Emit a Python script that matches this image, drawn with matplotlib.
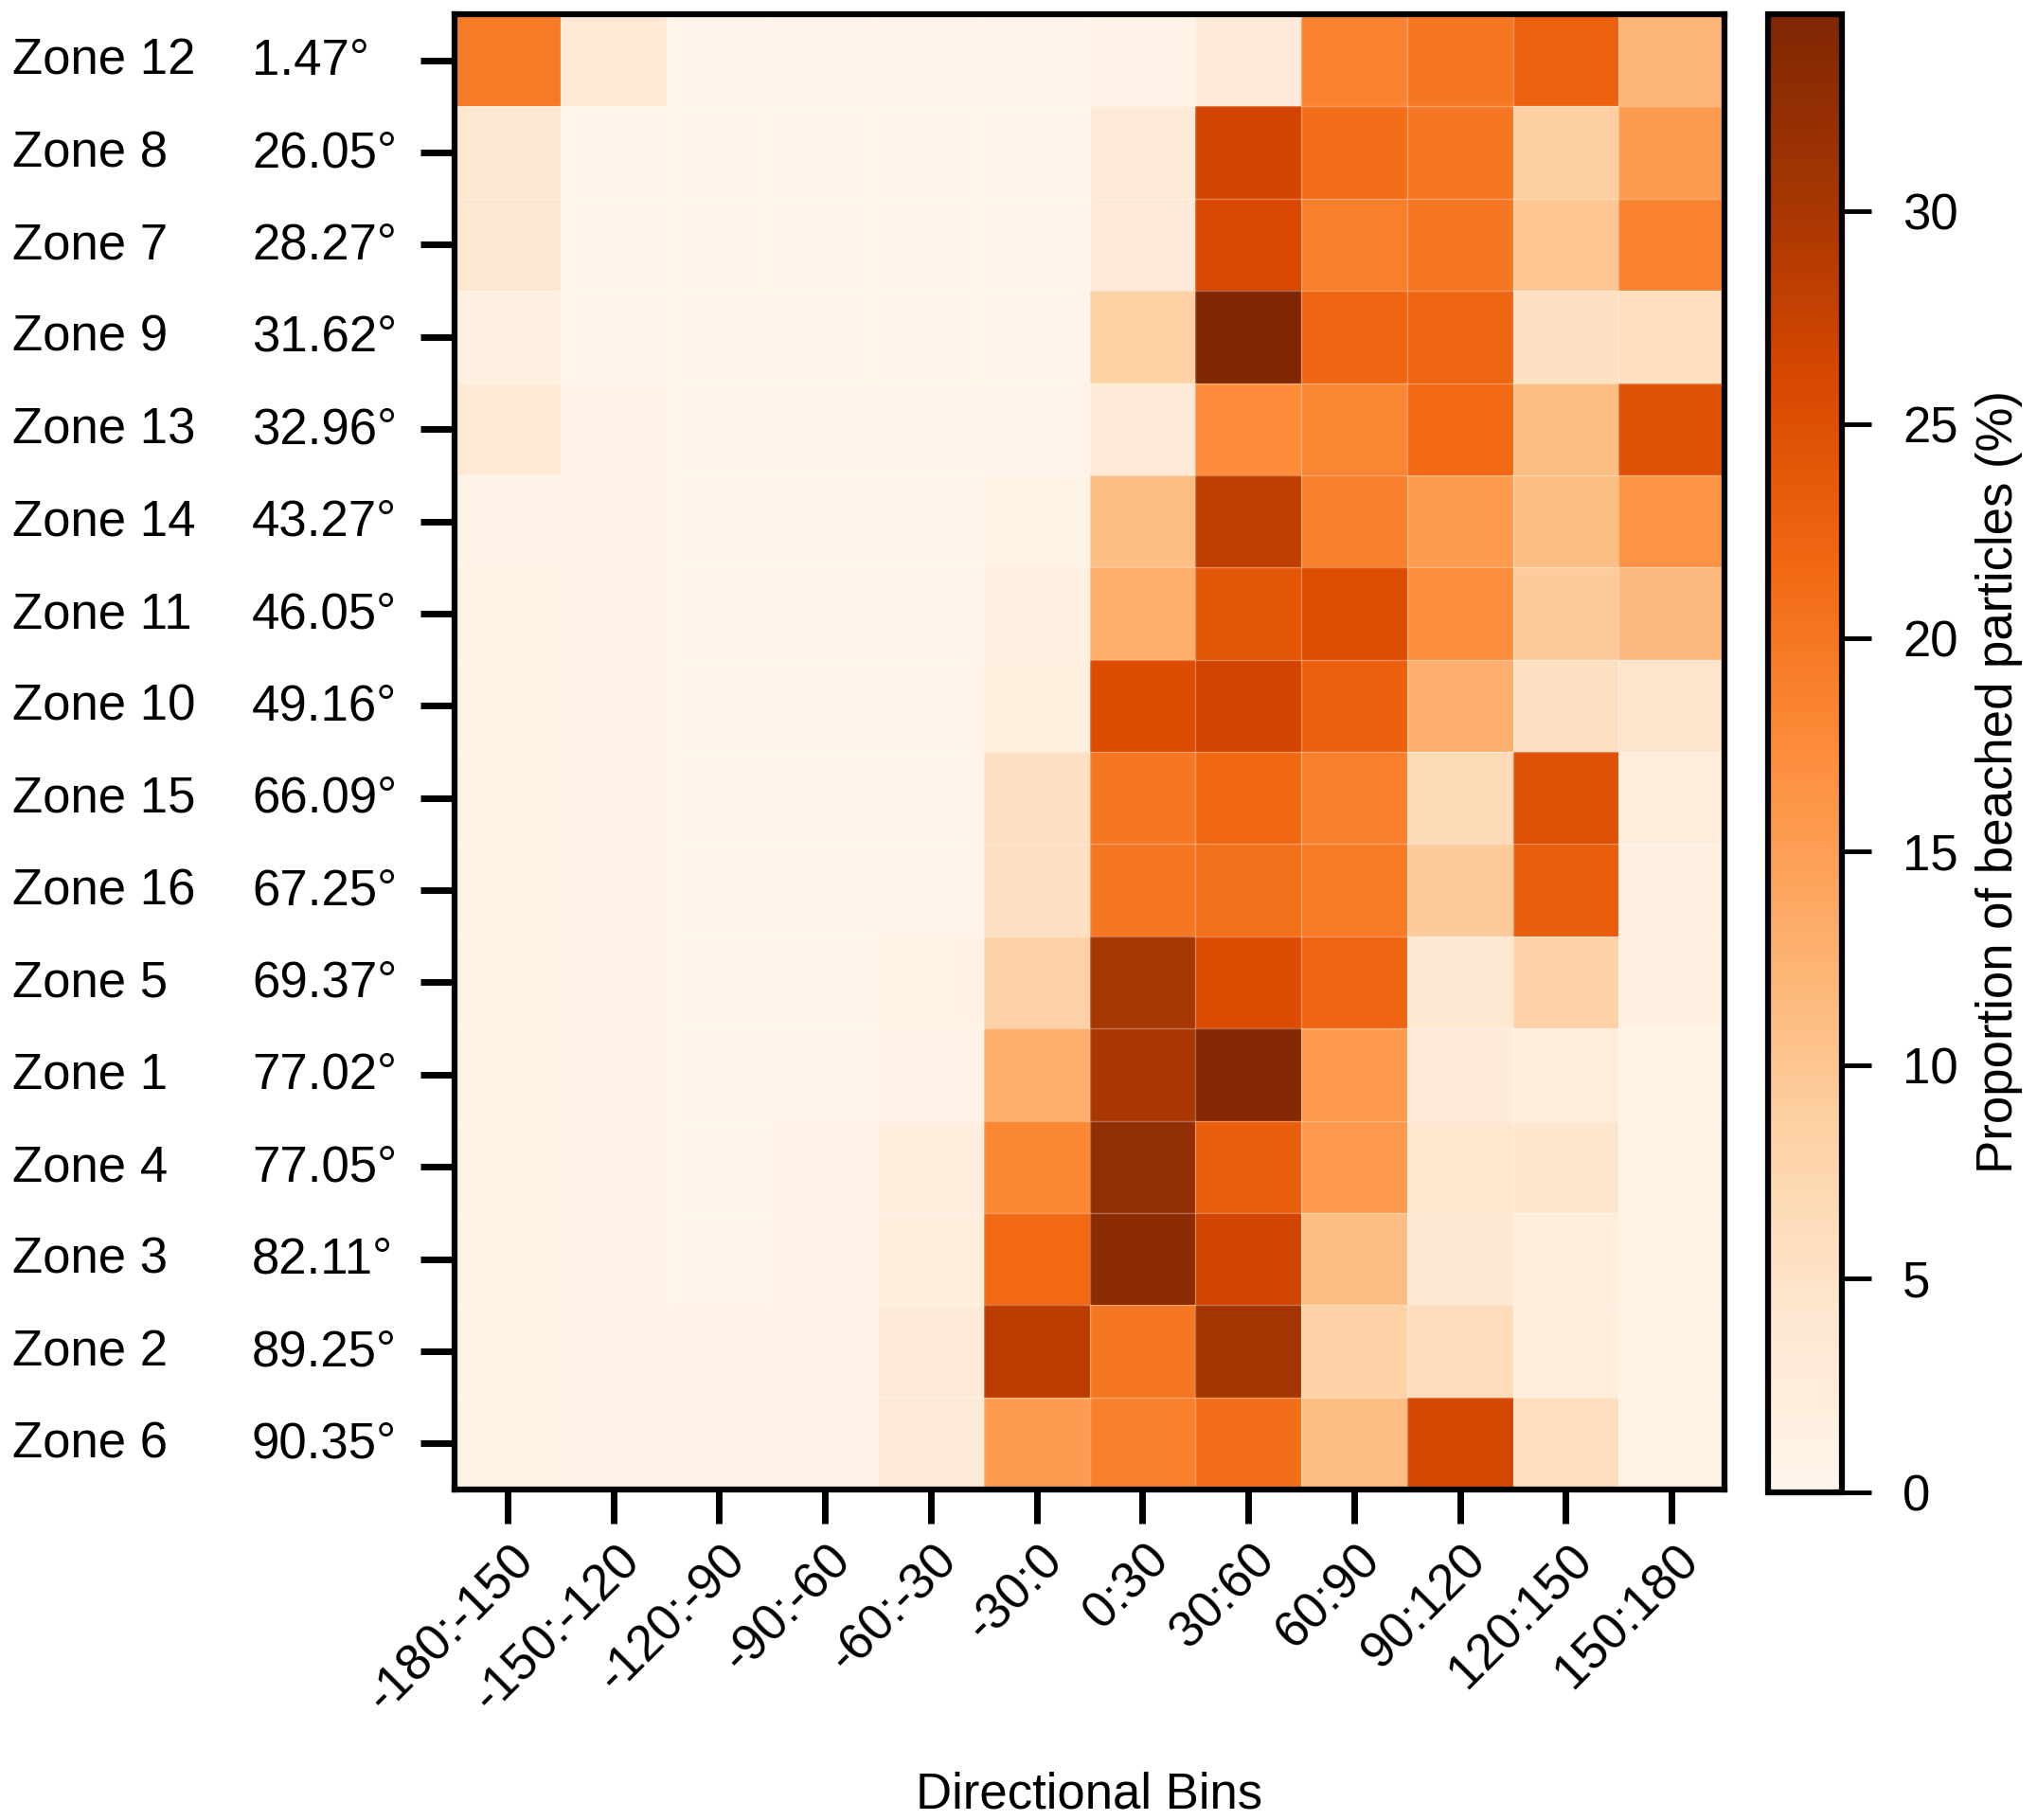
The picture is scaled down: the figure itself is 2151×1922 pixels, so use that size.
import numpy as np
import matplotlib
matplotlib.use("Agg")
import matplotlib.pyplot as plt
from matplotlib import transforms as mtrans

plt.rcParams['font.family'] = ['Liberation Sans', 'DejaVu Sans']

zones = ["Zone 12", "Zone 8", "Zone 7", "Zone 9", "Zone 13", "Zone 14", "Zone 11",
         "Zone 10", "Zone 15", "Zone 16", "Zone 5", "Zone 1", "Zone 4", "Zone 3",
         "Zone 2", "Zone 6"]
angles = ["1.47°", "26.05°", "28.27°", "31.62°", "32.96°", "43.27°", "46.05°",
          "49.16°", "66.09°", "67.25°", "69.37°", "77.02°", "77.05°", "82.11°",
          "89.25°", "90.35°"]
bins = ["-180:-150", "-150:-120", "-120:-90", "-90:-60", "-60:-30", "-30:0",
        "0:30", "30:60", "60:90", "90:120", "120:150", "150:180"]

values = np.array([
    [19.5, 3.5, 0.5, 0.3, 0.3, 0.3, 0.6, 3.0, 18.5, 20.0, 22.5, 12.0],
    [4.0, 0.4, 0.3, 0.2, 0.2, 0.2, 3.0, 26.5, 21.0, 20.0, 8.8, 15.5],
    [4.0, 0.4, 0.3, 0.2, 0.2, 0.2, 3.2, 26.0, 19.0, 20.0, 10.0, 18.5],
    [1.5, 0.5, 0.3, 0.3, 0.2, 0.2, 8.5, 34.6, 22.0, 22.0, 5.5, 5.8],
    [3.5, 0.6, 0.4, 0.3, 0.3, 0.3, 3.0, 17.5, 18.3, 21.5, 11.0, 25.0],
    [0.9, 0.6, 0.5, 0.4, 0.4, 0.8, 11.0, 28.0, 19.0, 15.5, 11.0, 16.5],
    [0.8, 0.6, 0.5, 0.4, 0.4, 1.5, 13.0, 24.0, 25.2, 17.2, 9.3, 11.5],
    [0.8, 0.6, 0.5, 0.4, 0.5, 1.8, 25.3, 26.5, 22.8, 12.8, 5.5, 4.8],
    [0.7, 0.6, 0.5, 0.4, 0.5, 5.5, 20.0, 21.7, 19.0, 6.5, 25.0, 2.5],
    [0.7, 0.6, 0.5, 0.4, 0.5, 5.5, 20.0, 20.8, 19.5, 9.3, 23.0, 1.5],
    [0.7, 0.6, 0.5, 0.5, 1.0, 8.3, 30.2, 25.3, 22.3, 3.8, 8.3, 1.5],
    [0.7, 0.6, 0.5, 0.5, 0.9, 13.0, 30.0, 34.0, 15.6, 3.0, 2.5, 0.8],
    [0.7, 0.6, 0.5, 0.6, 2.0, 18.2, 32.5, 23.0, 15.6, 4.2, 4.4, 1.0],
    [0.7, 0.6, 0.5, 0.6, 2.0, 21.5, 33.0, 26.5, 11.0, 3.8, 2.5, 1.0],
    [0.8, 0.6, 0.6, 0.6, 3.0, 28.5, 20.0, 30.5, 8.3, 6.3, 2.5, 1.0],
    [0.8, 0.6, 0.6, 0.6, 3.0, 15.3, 19.0, 21.0, 11.0, 26.3, 6.0, 1.0],
])
cbar_ticks = [0, 5, 10, 15, 20, 25, 30]
vmin, vmax = 0, 34.6

W, H = 2151, 1922
fig = plt.figure(figsize=(W / 100, H / 100), dpi=100)
ax = fig.add_axes([480 / W, 1 - 1573 / H, (1821 - 480) / W, (1573 - 15) / H])
cax = fig.add_axes([1867 / W, 1 - 1576 / H, (1945 - 1867) / W, (1576 - 15) / H])

nrow, ncol = values.shape
mesh = ax.pcolormesh(np.arange(ncol + 1), np.arange(nrow + 1), values,
                     cmap="Oranges", vmin=vmin, vmax=vmax)
ax.set_xlim(0, ncol)
ax.set_ylim(nrow, 0)
for k in range(1, ncol):
    ax.axvline(k, color="white", lw=1.0, alpha=0.3)
for k in range(1, nrow):
    ax.axhline(k, color="white", lw=1.0, alpha=0.3)

for s in ax.spines.values():
    s.set_linewidth(4.5)
    s.set_color("black")

ax.set_xticks(np.arange(ncol) + 0.5)
ax.set_xticklabels(bins, rotation=45, ha="right", va="center",
                   rotation_mode="anchor", fontsize=38)
ax.set_yticks(np.arange(nrow) + 0.5)
ax.set_yticklabels([])
ax.tick_params(axis="both", direction="out", length=26, width=5, color="black")
ax.tick_params(axis="x", pad=22)
off = mtrans.ScaledTranslation(20 / 100, 0, fig.dpi_scale_trans)
for lab in ax.get_xticklabels():
    lab.set_transform(lab.get_transform() + off)

tr = mtrans.blended_transform_factory(fig.transFigure, ax.transData)
for i, (z, a) in enumerate(zip(zones, angles)):
    ax.text(13 / W, i + 0.5 + 0.155, z, transform=tr, ha="left", va="baseline",
            fontsize=38, clip_on=False)
    ax.text(266 / W, i + 0.5 + 0.155, a, transform=tr, ha="left", va="baseline",
            fontsize=38, clip_on=False)

fig.text(1150 / W, 1 - 1910 / H, "Directional Bins", ha="center", va="baseline",
         fontsize=38)

cb = fig.colorbar(mesh, cax=cax, ticks=cbar_ticks)
cb.outline.set_linewidth(4.5)
cax.tick_params(direction="out", length=22, width=3.5, pad=24, labelsize=38)
fig.text(2111 / W, 1 - 826 / H, "Proportion of beached particles (%)",
         rotation=90, ha="center", va="center", fontsize=38)

fig.savefig("out.png", dpi=100, facecolor="white")
